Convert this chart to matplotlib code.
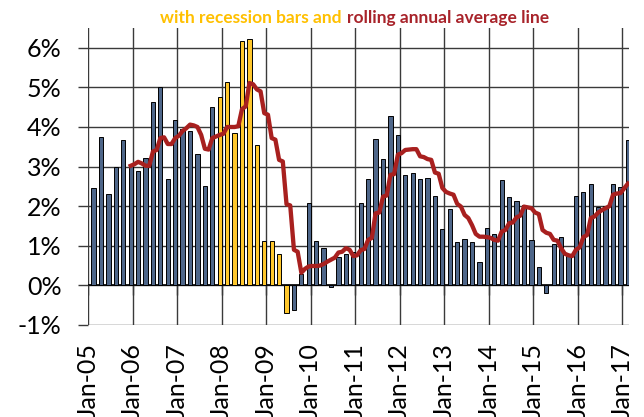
import matplotlib.pyplot as plt
import numpy as np
import pandas as pd

plt.rcParams['font.family'] = ['Lato', 'DejaVu Sans']

# bimonthly inflation readings, Feb-05 .. Feb-17 (percent)
bar_vals = [2.45, 3.76, 2.31, 3.00, 3.66, 3.05,
            2.90, 3.22, 4.63, 5.00, 2.68, 4.18,
            3.95, 3.89, 3.32, 2.51, 4.51, 4.76,
            5.14, 3.85, 6.17, 6.21, 3.54, 1.11,
            1.11, 0.79, -0.69, -0.62, 0.30, 2.07,
            1.11, 0.95, -0.05, 0.71, 0.79, 0.85,
            2.07, 2.69, 3.70, 3.20, 4.28, 3.80,
            2.78, 2.84, 2.68, 2.70, 2.26, 1.43,
            1.92, 1.10, 1.16, 1.10, 0.59, 1.46,
            1.29, 2.66, 2.24, 2.14, 2.04, 1.14,
            0.47, -0.20, 1.05, 1.23, 0.73, 2.26,
            2.37, 2.56, 1.99, 2.00, 2.56, 2.49,
            3.66]

# rolling annual average, monthly Dec-05 .. Feb-17 (percent)
avg_vals = [3.02, 3.06, 3.12, 3.08, 3.02, 3.02, 3.38, 3.42, 3.72, 3.74,
            3.57, 3.57, 3.72, 3.78, 3.90, 3.97, 4.06, 4.04, 4.00, 3.80,
            3.45, 3.43, 3.72, 3.76, 3.80, 3.83, 4.00, 4.00, 4.00, 4.02,
            4.45, 4.52, 5.11, 5.08, 4.95, 4.90, 4.35, 4.31, 3.72, 3.68,
            3.17, 3.13, 2.05, 2.02, 0.90, 0.85, 0.32, 0.42, 0.48, 0.49,
            0.49, 0.50, 0.54, 0.60, 0.65, 0.70, 0.83, 0.85, 0.94, 0.90,
            0.74, 0.76, 0.89, 0.92, 1.15, 1.20, 1.82, 1.84, 2.24, 2.27,
            2.79, 2.81, 3.30, 3.34, 3.42, 3.43, 3.44, 3.44, 3.26, 3.24,
            3.19, 3.17, 2.85, 2.82, 2.46, 2.36, 2.32, 2.29, 2.06, 1.99,
            1.78, 1.70, 1.52, 1.30, 1.23, 1.23, 1.22, 1.20, 1.15, 1.13,
            1.36, 1.40, 1.57, 1.59, 1.72, 1.76, 1.99, 1.97, 1.95, 1.84,
            1.80, 1.40, 1.33, 1.30, 1.15, 1.13, 0.94, 0.80, 0.76, 0.74,
            0.90, 0.96, 1.22, 1.27, 1.70, 1.74, 1.84, 1.90, 1.95, 2.00,
            2.29, 2.32, 2.33, 2.45, 2.57]

bar_dates = pd.date_range('2005-02-01', periods=len(bar_vals), freq='2MS')
avg_dates = pd.date_range('2005-12-01', periods=len(avg_vals), freq='MS')
rec_start = pd.Timestamp('2007-12-01')
rec_end = pd.Timestamp('2009-06-01')
years = list(range(2005, 2018))
y_ticks = list(range(-1, 7))


def month_pos(d):
    return (d.year - 2005) * 12 + d.month - 1 + 0.5


bx = month_pos(bar_dates)
lx = month_pos(avg_dates)
cols = ['#FFC72C' if rec_start <= d <= rec_end else '#4E6689' for d in bar_dates]

fig = plt.figure(figsize=(6.44, 4.17), dpi=100)
ax = fig.add_axes([88 / 644, 92 / 417, (629 - 88) / 644, (389 - 92) / 417])

ax.bar(bx, bar_vals, width=1.15, color=cols, edgecolor='black', linewidth=0.7, zorder=2)
ax.plot(lx, avg_vals, color='#A8201F', lw=3.1, zorder=3)

xt = [(y - 2005) * 12 for y in years]
ax.set_xticks(xt)
ax.set_xticklabels(['Jan-%02d' % (y % 100) for y in years], rotation=90, fontsize=18)
ax.set_yticks(y_ticks)
ax.set_yticklabels(['%d%%' % v for v in y_ticks], fontsize=18)
ax.set_xlim(0, 145.8)
ax.set_ylim(-1, 6.5)

ax.grid(True, color='#3a3a3a', lw=1.0)
ax.set_axisbelow(True)
for s in ax.spines.values():
    s.set_visible(False)
ax.tick_params(axis='x', length=0, pad=13)
ax.tick_params(axis='y', length=7, width=1.0, color='#3a3a3a', pad=12)
ax.axhline(0, color='black', lw=1.2, zorder=1.5)
ax.vlines(xt, -0.23, 0, color='#3a3a3a', lw=1.0, zorder=1.5)

fig.text(341 / 644, 0.958, 'with recession bars and', color='#FFC000',
         fontsize=12.5, fontweight='bold', ha='right', va='center')
fig.text(347 / 644, 0.958, 'rolling annual average line', color='#A8232A',
         fontsize=12.5, fontweight='bold', ha='left', va='center')

fig.savefig('out.png', dpi=100)
